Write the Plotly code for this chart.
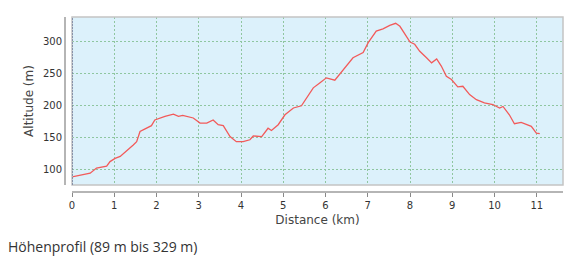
import plotly.graph_objects as go

distance_km = [0.0, 0.19, 0.43, 0.58, 0.82, 0.9, 1.02, 1.14, 1.29, 1.45, 1.53, 1.61, 1.73, 1.88, 1.96,
               2.08, 2.2, 2.4, 2.52, 2.62, 2.71, 2.87, 3.03, 3.19, 3.34, 3.46, 3.58, 3.74, 3.89, 4.05,
               4.21, 4.29, 4.49, 4.64, 4.72, 4.88, 5.04, 5.24, 5.43, 5.59, 5.71, 5.87, 6.02, 6.22,
               6.46, 6.65, 6.89, 7.01, 7.2, 7.36, 7.52, 7.66, 7.76, 7.88, 8.0, 8.11, 8.23, 8.39,
               8.51, 8.63, 8.74, 8.86, 8.98, 9.13, 9.25, 9.41, 9.57, 9.76, 9.96, 10.12, 10.2,
               10.35, 10.47, 10.63, 10.75, 10.87, 10.99, 11.07]
altitude_m = [89, 92, 95, 103, 106, 113, 118, 121, 129, 139, 144, 160, 164, 169, 178,
              181, 183.5, 187, 183.5, 185, 183.5, 181, 173, 173, 178, 170.5, 169, 152, 144, 144,
              147, 153, 152, 165, 161.5, 170.5, 186, 196.6, 200, 215, 228, 236, 243.6, 240,
              259, 275, 283, 298.5, 316.6, 320, 325.5, 328.7, 324, 311, 299.4, 296, 285, 275,
              267, 273, 262, 246, 241, 229.5, 230.5, 217.5, 209.6, 204.5, 202, 196.6, 199,
              186, 172, 174, 170.5, 168, 157.5, 156.6]
x_ticks = list(range(0, 12))
y_ticks = [100, 150, 200, 250, 300]
title_text = "Höhenprofil (89 m bis 329 m)"

fig = go.Figure()
fig.add_trace(go.Scatter(x=distance_km, y=altitude_m, mode="lines",
                         line=dict(color="#f25a5a", width=1.3), hoverinfo="skip"))

W, H = 577, 262
ml, mr, mt, mb = 65, 14, 17, 70
pw = W - ml - mr
ph = H - mt - mb
xd0 = (72 - ml) / pw
yd0 = (192 - 185) / ph

grid = dict(showgrid=True, gridcolor="#8fc6a0", gridwidth=1, griddash="2px,2px")
tickfont = dict(family="DejaVu Sans", size=10, color="#333")
titlefont = dict(family="DejaVu Sans", size=12, color="#444")

fig.update_layout(
    width=W, height=H,
    margin=dict(l=ml, r=mr, t=mt, b=mb),
    paper_bgcolor="white",
    plot_bgcolor="#dcf1fb",
    showlegend=False,
    xaxis=dict(domain=[xd0, 1], anchor="free", position=0, range=[0, 11.62],
               tickvals=x_ticks, ticktext=[str(v) for v in x_ticks],
               showline=True, linecolor="#b5b5b5", linewidth=2,
               ticks="outside", ticklen=4, tickcolor="#888", tickwidth=1,
               tickfont=tickfont, zeroline=False,
               title=dict(text="Distance (km)", font=titlefont, standoff=5),
               **grid),
    yaxis=dict(domain=[yd0, 1], anchor="free", position=0, range=[76.5, 338.5],
               tickvals=y_ticks, ticktext=[str(v) for v in y_ticks],
               showline=True, linecolor="#b5b5b5", linewidth=2,
               ticks="", tickfont=tickfont, zeroline=False,
               title=dict(text="Altitude (m)", font=titlefont, standoff=6),
               **grid),
    shapes=[
        dict(type="rect", xref="x domain", yref="y domain", x0=0, x1=1, y0=0, y1=1,
             line=dict(color="#c4c4c4", width=1.5), layer="above"),
        dict(type="line", xref="x", yref="y domain", x0=0, x1=0, y0=0, y1=1,
             line=dict(color="#5a6a90", width=1.2, dash="2px,1px"), layer="above"),
    ],
    annotations=[
        dict(text=title_text, xref="paper", yref="paper", x=-(ml - 6) / pw, y=-(246 - 192) / ph,
             xanchor="left", yanchor="middle", showarrow=False,
             font=dict(family="Open Sans", size=14, color="#333")),
    ],
)

fig.write_html("out.html")
